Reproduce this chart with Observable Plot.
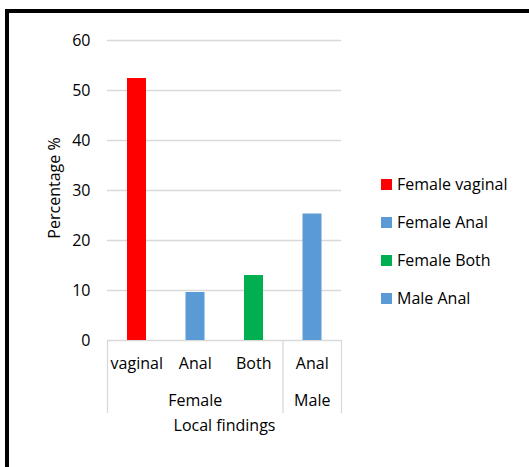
<!DOCTYPE html>
<html><head><meta charset="utf-8">
<script src="https://cdn.jsdelivr.net/npm/d3@7"></script>
<script src="https://cdn.jsdelivr.net/npm/@observablehq/plot@0.6"></script>
<style>
html,body{margin:0;padding:0;background:#fff;overflow:hidden;}
#wrap{position:relative;width:529px;height:467px;overflow:hidden;font-family:"Open Sans",sans-serif;background:#fff;}
#frame{position:absolute;left:5px;top:9px;width:700px;height:700px;border:4px solid #000;box-sizing:border-box;}
#chart{position:absolute;left:0;top:0;}
#legend{position:absolute;left:381px;top:165px;}
#legend [class$="-swatch"]{height:38px;margin:0;padding:0;display:flex;align-items:center;}
#legend [class$="-swatch"] svg{margin-right:5px;}
</style></head><body><div id="wrap"><div id="frame"></div><div id="chart"></div><div id="legend"></div></div>
<script>
const categories = ["vaginal", "Anal", "Both", "Anal"];
const groups = ["Female", "Female", "Female", "Male"];
const values = [52.4, 9.6, 13.0, 25.3];
const seriesNames = ["Female vaginal", "Female Anal", "Female Both", "Male Anal"];
const seriesColors = ["#ff0000", "#5b9bd5", "#00b050", "#5b9bd5"];
const yTicks = [0, 10, 20, 30, 40, 50, 60];
const xTitle = "Local findings";
const yTitle = "Percentage %";

const data = categories.map((c, i) => ({i, cat: c, group: groups[i], value: values[i], series: seriesNames[i]}));
const groupSpans = [];
groups.forEach((g, i) => {
  const last = groupSpans[groupSpans.length - 1];
  if (last && last.name === g) last.end = i + 1;
  else groupSpans.push({name: g, start: i, end: i + 1});
});
const bounds = [0, ...groupSpans.map(d => d.end)];

const font = "'Open Sans', sans-serif";
const chart = Plot.plot({
  width: 529, height: 467,
  marginTop: 40, marginBottom: 54, marginLeft: 107, marginRight: 188,
  style: {fontFamily: font, fontSize: "16px", color: "#000", background: "transparent", overflow: "visible"},
  x: {domain: [0, categories.length], axis: null},
  y: {domain: [0, 60], range: [340, 40]},
  color: {domain: seriesNames, range: seriesColors},
  marks: [
    Plot.gridY(yTicks, {stroke: "#d9d9d9", strokeOpacity: 1, strokeWidth: 1.3}),
    Plot.axisY({ticks: yTicks, tickSize: 0, tickPadding: 17, fontSize: 16, label: null, fill: "#000"}),
    Plot.ruleX(bounds, {stroke: "#d9d9d9", strokeOpacity: 1, strokeWidth: 1.3, insetTop: 300}),
    Plot.rectY(data, {x1: "i", x2: d => d.i + 1, y1: 0, y2: "value", fill: "series", insetLeft: 20, insetRight: 19.5}),
    Plot.text(data, {x: d => d.i + 0.5, y: 0, text: "cat", dy: 23, fill: "#000"}),
    Plot.text(groupSpans, {x: d => (d.start + d.end) / 2, y: 0, text: "name", dy: 60, fill: "#000"}),
    Plot.text([xTitle], {frameAnchor: "bottom", text: d => d, dy: 17, fill: "#000"}),
    Plot.text([yTitle], {frameAnchor: "left", textAnchor: "middle", text: d => d, dx: -53, dy: -39, rotate: -90, fill: "#000"})
  ]
});
document.getElementById("chart").appendChild(chart);

const legend = Plot.legend({
  color: {domain: seriesNames, range: seriesColors},
  legend: "swatches", columns: 1, swatchSize: 11, className: "lg",
  style: {fontFamily: font, fontSize: "16px", color: "#000"}
});
document.getElementById("legend").appendChild(legend);
</script></body></html>
